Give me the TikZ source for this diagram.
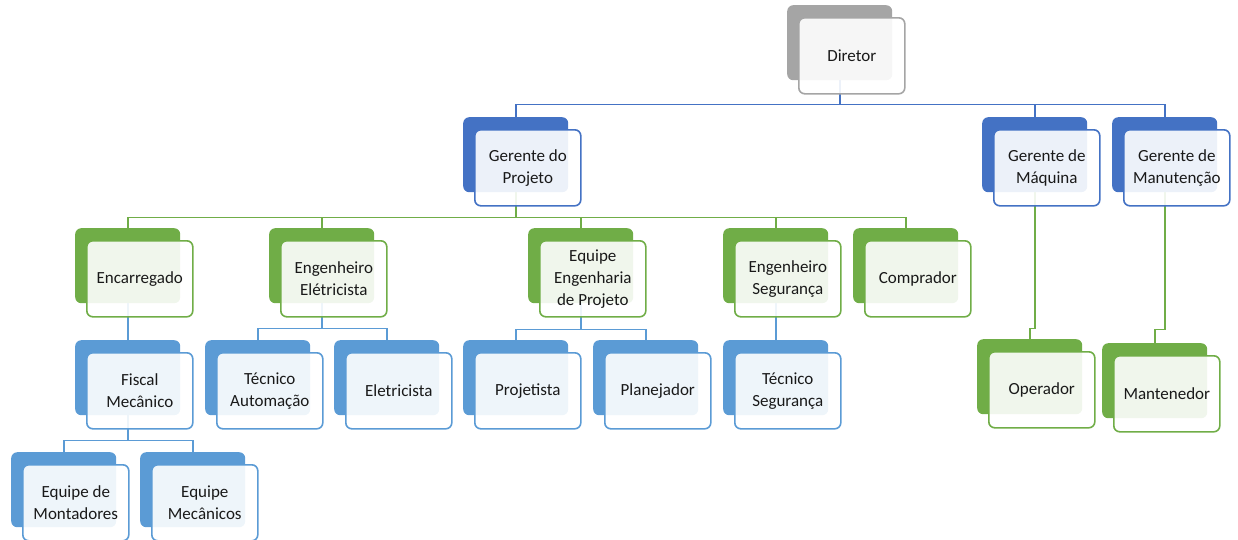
\documentclass[tikz,border=0pt]{standalone}
\usepackage{fontspec}
\setmainfont{Carlito}
\usetikzlibrary{backgrounds,positioning}

\definecolor{grayA}{HTML}{A5A5A5}
\definecolor{blueD}{HTML}{4472C4}
\definecolor{blueL}{HTML}{5B9BD5}
\definecolor{greenA}{HTML}{70AD47}

\tikzset{
  backbox/.style={rectangle, rounded corners=6pt, minimum width=105pt,
    minimum height=75pt, inner sep=0pt, anchor=north west, draw=none},
  frontbox/.style={rectangle, rounded corners=6pt, minimum width=106pt,
    minimum height=76pt, inner sep=0pt, anchor=north west, line width=1.6pt,
    fill=white, fill opacity=0.9, text opacity=1,
    align=center, font=\fontsize{17}{22}\selectfont, text=black!90},
  conn/.style={line width=1.8pt}
}

% one org unit: solid back tile plus a translucent front card holding the label
\newcommand\orgunit[5]{%
  \node[backbox, fill=#4] (#1-b) at (#2,#3) {};
  \node[frontbox, draw=#4] (#1) at ([shift={(11pt,-12pt)}]#1-b.north west) {#5};
}

\begin{document}
\begin{tikzpicture}[x=1pt,y=-1pt]
\useasboundingbox (0,0) rectangle (1238,539);
\clip (0,0) rectangle (1238,539);

% level 0
\orgunit{dir}{787}{5}{grayA}{Diretor}
% level 1
\orgunit{gp}{463}{117}{blueD}{Gerente do\\Projeto}
\orgunit{gm}{982}{117}{blueD}{Gerente de\\Máquina}
\orgunit{gt}{1112}{117}{blueD}{Gerente de\\Manutenção}
% level 2
\orgunit{enc}{75}{228}{greenA}{Encarregado}
\orgunit{eel}{269}{228}{greenA}{Engenheiro\\Elétricista}
\orgunit{eep}{528}{228}{greenA}{Equipe\\Engenharia\\de Projeto}
\orgunit{esg}{723}{228}{greenA}{Engenheiro\\Segurança}
\orgunit{cmp}{853}{228}{greenA}{Comprador}
% level 3
\orgunit{fis}{75}{340}{blueL}{Fiscal\\Mecânico}
\orgunit{tau}{205}{340}{blueL}{Técnico\\Automação}
\orgunit{ele}{334}{340}{blueL}{Eletricista}
\orgunit{prj}{463}{340}{blueL}{Projetista}
\orgunit{pla}{593}{340}{blueL}{Planejador}
\orgunit{tsg}{723}{340}{blueL}{Técnico\\Segurança}
\orgunit{op}{977}{339}{greenA}{Operador}
\orgunit{man}{1102}{343}{greenA}{Mantenedor}
% level 4
\orgunit{mon}{11}{452}{blueL}{Equipe de\\Montadores}
\orgunit{mec}{140}{452}{blueL}{Equipe\\Mecânicos}

\begin{pgfonlayer}{background}
  % director to managers
  \foreach \c in {gp,gm,gt}
    \draw[conn, blueD] (dir-b.south) -- ++(0,24) -| (\c-b.north);
  % project manager to its staff
  \foreach \c in {enc,eel,eep,esg,cmp}
    \draw[conn, greenA] (gp-b.south) -- ++(0,25) -| (\c-b.north);
  \draw[conn, blueL] (enc-b.south) -- (fis-b.north);
  \foreach \c in {mon,mec}
    \draw[conn, blueL] (fis-b.south) -- ++(0,25) -| (\c-b.north);
  \foreach \c in {tau,ele}
    \draw[conn, blueL] (eel-b.south) -- ++(0,25) -| (\c-b.north);
  \foreach \c in {prj,pla}
    \draw[conn, blueL] (eep-b.south) -- ++(0,26) -| (\c-b.north);
  \draw[conn, blueL] (esg-b.south) -- (tsg-b.north);
  \draw[conn, greenA] (gm-b.south) -- ++(0,136) -| (op-b.north);
  \draw[conn, greenA] (gt-b.south) -- ++(0,137) -| (man-b.north);
\end{pgfonlayer}
\end{tikzpicture}
\end{document}
